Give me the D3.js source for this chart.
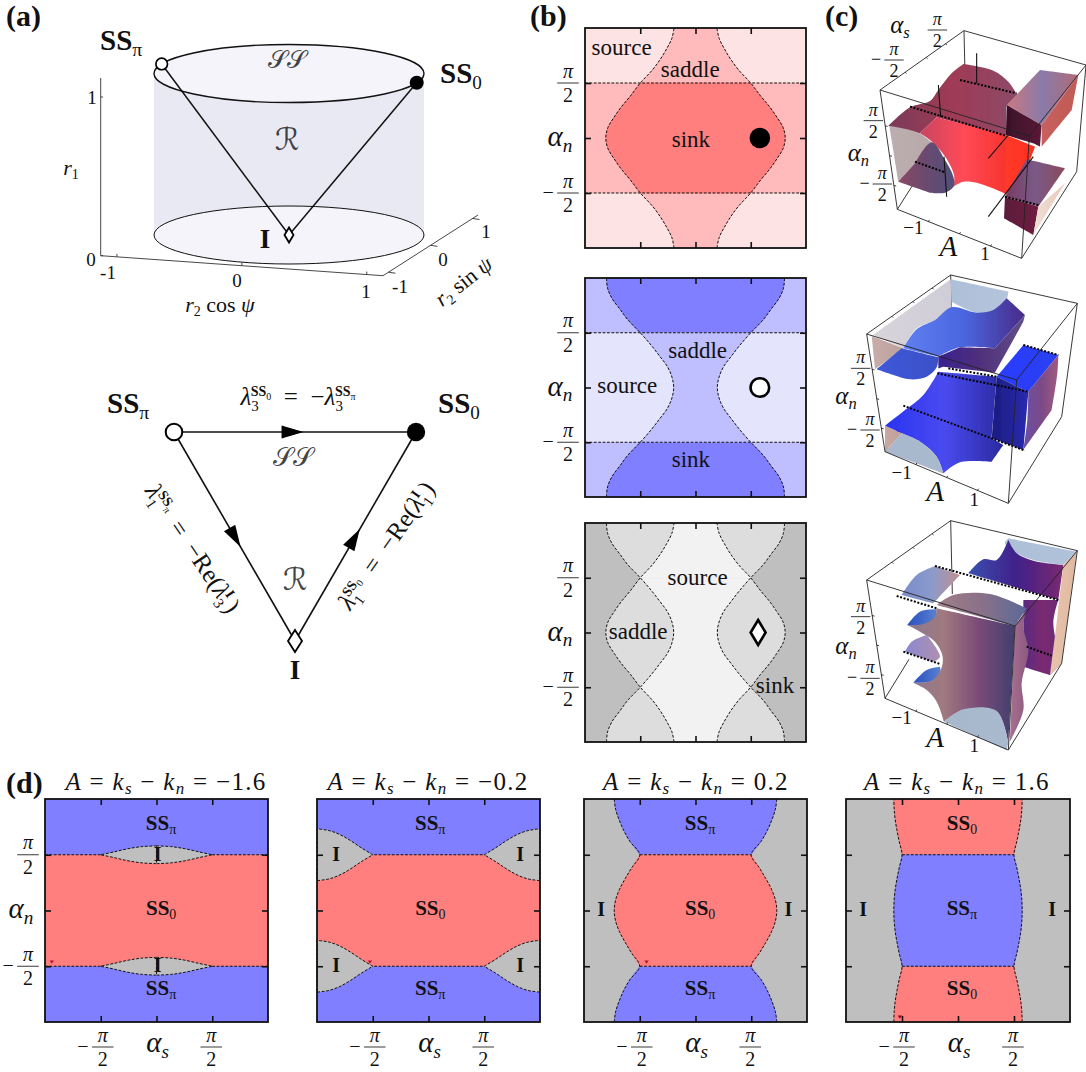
<!DOCTYPE html>
<html>
<head>
<meta charset="utf-8">
<script src="https://d3js.org/d3.v7.min.js"></script>
<style>
  html, body { margin: 0; padding: 0; background: #fff; }
  svg { display: block; }
  text { font-family: "Liberation Serif", serif; fill: #111; }
</style>
</head>
<body>
<div id="chart"></div>
<script>
const PI = Math.PI, H = PI / 2;

// boundaries of the stability regions (b) and (d)
const alphaN = [0, 0.3, 0.6, 0.9, 1.2, 1.57, 1.95, 2.25, 2.55, 2.85, 3.14];
const edgeSS0 = [2.55, 2.49, 2.31, 2.10, 1.85, 1.57, 1.22, 1.00, 0.82, 0.67, 0.61];
const edgeSSpi = [0.62, 0.67, 0.80, 1.02, 1.25, 1.57, 1.93, 2.15, 2.37, 2.50, 2.53];
const edgeD3 = [2.29, 2.25, 2.14, 1.98, 1.80, 1.57, 1.85, 2.02, 2.15, 2.25, 2.29];
const edgeD4 = [1.80, 1.79, 1.76, 1.71, 1.65, 1.57, 1.65, 1.71, 1.76, 1.79, 1.80];
const lensS1 = [0, 0.4, 0.8, 1.2, 1.57];
const lensW1 = [0.25, 0.23, 0.17, 0.08, 0];
const lensS2 = [1.57, 1.9, 2.2, 2.5, 2.8, 3.14];
const lensW2 = [0, 0.2, 0.4, 0.57, 0.68, 0.73];

const tickVals = [-H, 0, H];
const r2Ticks = [-1, 0, 1];
const titles = ["\u22121.6", "\u22120.2", "0.2", "1.6"];
const titleCentres = [166, 428, 696, 957];

const redShades = ["#fde3e3", "#ffbbbb", "#ff7f7f"];
const blueShades = ["#e4e4fd", "#bfbfff", "#7f7fff"];
const grayShades = ["#f2f2f2", "#dddddd", "#bfbfbf"];
const RED = "#ff7f7f", BLUE = "#7f7fff", GRAY = "#bfbfbf";

// text in panel (b): word, alpha_s, alpha_n of baseline
const b1Words = [["source", -2.10, 2.37], ["saddle", -0.15, 1.74], ["sink", -0.13, -0.26]];
const b2Words = [["saddle", 0.06, 0.84], ["source", -1.94, -0.16], ["sink", -0.13, -2.29]];
const b3Words = [["source", 0.06, 1.36], ["saddle", -1.63, -0.19], ["sink", 2.26, -1.73]];

// text in panel (d): kind, alpha_s, alpha_n of baseline
const d1Words = [["pi", 0.13, 2.27], ["0", 0.13, -0.13], ["pi", 0.13, -2.38], ["I", 0.03, 1.39], ["I", 0.03, -1.73]];
const d2Words = [["pi", 0.05, 2.27], ["0", 0.05, -0.13], ["pi", 0.05, -2.38], ["I", -2.6, 1.39], ["I", 2.58, 1.39], ["I", -2.6, -1.73], ["I", 2.58, -1.73]];
const d3Words = [["pi", 0.13, 2.27], ["0", 0.13, -0.13], ["pi", 0.13, -2.38], ["I", -2.66, -0.15], ["I", 2.62, -0.15]];
const d4Words = [["0", 0.11, 2.27], ["pi", 0.11, -0.13], ["0", 0.11, -2.38], ["I", -2.66, -0.15], ["I", 2.64, -0.15]];

// small numerical specks in the maps: alpha_s, alpha_n
const d1Specks = [[-2.95, -1.45]];
const d2Specks = [[-1.65, -1.45]];
const d3Specks = [[-1.38, -1.45]];
const d4Specks = [[-1.63, -3.0]];

// panel (c) surfaces, traced outlines in a 798 x 780 picture of each box
// a third element 1 marks a sharp corner, the rest are on a smooth edge
const c1Shapes = [
  [[205,378,1],[270,322],[330,303],[355,270],[395,220],[430,192,1],[520,212],[565,245],[592,285,1],[558,320,1],[558,408,1],[350,352,1],[300,400,1]],
  [[300,400,1],[350,352,1],[558,405,1],[558,582,1],[510,562],[470,548],[430,545],[402,558,1],[402,525],[385,485],[360,450],[330,420]],
  [[558,405,1],[645,440,1],[600,560,1],[555,582,1]],
  [[208,378,1],[295,398],[335,427,1],[285,490,1],[235,545,1]],
  [[235,545,1],[285,490,1],[335,427],[375,480],[400,530],[402,558],[375,578],[330,578,1]],
  [[560,315,1],[660,210,1],[775,225,1],[665,375,1]],
  [[560,315,1],[665,375,1],[660,440,1],[640,430,1],[558,405,1]],
  [[665,375,1],[775,225,1],[755,330,1],[665,440,1]],
  [[555,590,1],[620,478,1],[735,505,1],[655,620,1]],
  [[555,590,1],[655,620,1],[640,705,1],[552,655,1]],
  [[655,620,1],[735,550,1],[640,705,1]]
];
const c1Fills = [
  ["#7a3a5a", "#a03a55", "#8c4a68"], ["#c84460", "#ff4a58", "#f8342e"], ["#ff3a2a", "#ff3020"], ["#bcaeb0", "#b8a8aa"], ["#8a4a62", "#6a4a70", "#50507a"],
  ["#c97a80", "#8a7aa8", "#b06a78"], ["#3a1028", "#5a1a38"], ["#c8605e", "#c05a55"], ["#7a3a60", "#7a5a88", "#8a4a5a"],
  ["#5a1a3a", "#701f40"], ["#f0e0d8", "#e8c8b8"]
];
const c1Lines = [
  [[470,160],[470,250]], [[355,255],[362,350]], [[505,475],[565,405]], [[505,650],[640,470]], [[372,470],[380,590]]
];
const c1Dots = [
  [[285,485],[375,517]], [[270,320],[560,408]], [[420,240],[590,280]], [[555,590],[655,615]]
];
const c2Shapes = [
  [[160,225,1],[392,58,1],[395,142,1],[345,180],[290,205],[250,265,1]],
  [[392,58,1],[565,95,1],[557,125],[520,152],[470,158],[395,125,1]],
  [[250,265,1],[290,208],[345,180],[395,142],[470,158],[520,150],[560,115,1],[615,165,1],[525,265,1],[420,262],[355,290,1]],
  [[155,228,1],[250,265,1],[165,328,1]],
  [[170,328,1],[245,265,1],[355,292,1],[350,322],[320,350],[270,358],[220,345]],
  [[355,290,1],[420,262,1],[525,265,1],[615,165,1],[610,185,1],[525,338,1],[370,320,1],[355,325,1]],
  [[195,497,1],[255,450],[310,405],[355,335,1],[530,350,1],[515,535,1],[550,555,1],[515,605,1],[425,605],[395,620],[370,640,1],[350,590],[300,545],[245,520,1]],
  [[195,575,1],[245,520,1],[300,545],[350,590],[370,640,1]],
  [[195,497,1],[245,520,1],[195,575,1]],
  [[530,350,1],[610,255,1],[715,285,1],[625,395,1]],
  [[530,350,1],[625,395,1],[610,570,1],[515,535,1]],
  [[625,395,1],[715,285,1],[712,340],[695,450,1],[610,570,1],[622,480]]
];
const c2Fills = [
  ["#d8d4da", "#cfcdd8"], ["#aebfd8", "#b4c4dc"], ["#5f7ff0", "#4a66e0", "#4a2a88"], ["#c8aca8", "#bca09e"],
  ["#4058d8", "#3a50c8"], ["#3a2090", "#50307a", "#60508a"], ["#2a34f0", "#4a4af0", "#2a2aa0"], ["#a9b8cc", "#aabace"],
  ["#c8a8a0", "#c0a09a"], ["#2a3cff", "#2a40f0"], ["#1c1c80", "#2a2ab0"], ["#6a50a8", "#7a4a88", "#a05a80"]
];
const c2Lines = [];
const c2Dots = [
  [[250,437],[615,572]], [[352,340],[625,395]], [[610,255],[715,285]], [[385,325],[530,350]]
];
const c3Shapes = [
  [[565,85,1],[770,125,1],[730,165,1],[640,150],[590,130],[555,100]],
  [[445,190,1],[490,148],[530,150],[565,90,1],[590,130],[640,152],[730,165,1],[715,270,1]],
  [[610,270,1],[715,270,1],[700,340],[725,460,1],[690,495,1],[610,470,1]],
  [[730,165,1],[770,125,1],[725,460,1],[690,495,1],[712,320]],
  [[245,255,1],[290,195],[345,168,1],[420,195,1],[340,280,1]],
  [[262,345,1],[300,305],[350,298,1],[345,325],[310,345]],
  [[255,425,1],[275,395],[320,375,1],[360,440],[340,455,1]],
  [[280,518,1],[320,480],[360,470,1],[360,495],[330,515]],
  [[350,285,1],[400,255],[510,252],[620,295,1],[585,348,1]],
  [[350,295,1],[585,348,1],[565,700,1],[530,605],[430,600],[372,635,1],[350,575],[320,540],[280,518,1],[335,512],[362,480],[368,440],[345,395],[300,365],[262,345,1],[310,342],[345,320]],
  [[372,635,1],[430,598],[530,603],[565,700,1],[560,720,1]],
  [[585,348,1],[620,298,1],[610,350],[625,420],[605,520],[610,600],[570,695,1]]
];
const c3Fills = [
  ["#aec0d8", "#b0c2da"], ["#3a50b0", "#40208a", "#7a2a70"], ["#5a2a80", "#7a2a70", "#6a2a78"], ["#e8c4ac", "#e0b8a0"],
  ["#7a8ccc", "#8a9acc", "#c09090"], ["#2a50c0", "#5a80d0"], ["#8a88d0", "#b090b0"], ["#2a50c0", "#5a80d0"],
  ["#a08088", "#8a7088", "#5a6a98"], ["#8a7890", "#a07a80", "#7a4a78", "#40406e"], ["#a8b8cc", "#aabace"], ["#a87090", "#8a5a80"]
];
const c3Lines = [];
const c3Dots = [
  [[345,168],[715,270]], [[230,258],[350,295]], [[250,425],[360,462]], [[620,410],[695,437]]
];
// box corners: top left, back, right, front; bottom left, front, right
const c1Box = [[180,270],[432,92],[798,195],[628,408],[232,628],[605,775],[770,515]];
const c2Box = [[140,222],[392,45],[772,130],[590,360],[195,575],[565,730],[725,470]];
const c3Box = [[140,210],[392,32],[772,122],[585,348],[195,565],[565,720],[725,460]];
const boxTicksBack = [0.3, 0.55, 0.78];
const boxTicksBottom = [0.25, 0.5, 0.75];
const boxTicksSide = [0.3, 0.55, 0.8];

const width = 1086, height = 1072;
const svg = d3.select("#chart").append("svg").attr("width", width).attr("height", height);
const defs = svg.append("defs");
defs.append("filter").attr("id", "soft").append("feGaussianBlur").attr("stdDeviation", 0.45);

// ---- helpers ----
function rich(g, x, y, parts, size, anchor) {
  const t = g.append("text").attr("x", x).attr("y", y).attr("font-size", size).attr("text-anchor", anchor || "start");
  let prev = 0;
  parts.forEach(p => {
    const b = p.b || 0;
    t.append("tspan")
      .attr("dy", b - prev)
      .attr("dx", p.dx || 0)
      .attr("font-size", p.s || size)
      .attr("font-weight", p.w || "normal")
      .attr("font-style", p.i ? "italic" : "normal")
      .text(p.t);
    prev = b;
  });
  return t;
}

function ssLabel(g, x, y, sub, size, anchor) {
  const parts = [{ t: "SS", w: "bold" }];
  parts.push(sub === "pi" ? { t: "\u03c0", b: size * 0.2, s: size * 0.68 } : { t: "0", b: size * 0.2, s: size * 0.66 });
  return rich(g, x, y, parts, size, anchor);
}

function fraction(g, x, y, neg, size) {
  const w = size * 0.54;
  g.append("text").attr("x", x).attr("y", y - size * 0.27).attr("text-anchor", "middle").attr("font-size", size).attr("font-style", "italic").text("\u03c0");
  g.append("line").attr("x1", x - w).attr("x2", x + w).attr("y1", y).attr("y2", y).attr("stroke", "#222").attr("stroke-width", 0.9);
  g.append("text").attr("x", x).attr("y", y + size * 0.95).attr("text-anchor", "middle").attr("font-size", size).text("2");
  if (neg) g.append("text").attr("x", x - w - size * 0.45).attr("y", y + size * 0.28).attr("text-anchor", "middle").attr("font-size", size).attr("fill", "#444").text("\u2212");
}

function alphaLabel(g, x, y, sub, size) {
  rich(g, x, y, [{ t: "\u03b1", i: true }, { t: sub, i: true, b: size * 0.2, s: size * 0.66 }], size, "middle");
}

function diamond(g, x, y, w, h, sw) {
  g.append("path")
    .attr("d", `M${x},${y - h}L${x + w},${y}L${x},${y + h}L${x - w},${y}Z`)
    .attr("fill", "#fff").attr("stroke", "#000").attr("stroke-width", sw);
}

function makeFrame(l, r, t, b) {
  const g = svg.append("g");
  return {
    g,
    x: d3.scaleLinear().domain([-PI, PI]).range([l, r]),
    y: d3.scaleLinear().domain([-PI, PI]).range([b, t]),
    l, r, t, b
  };
}

function edgeSegment(edge, lo, hi) {
  const pts = [];
  alphaN.forEach((a, i) => pts.push([a, edge[i]]));
  alphaN.slice(1).forEach((a, i) => pts.unshift([-a, edge[i + 1]]));
  return pts.filter(p => p[0] >= lo - 0.01 && p[0] <= hi + 0.01);
}

// area |alpha_s| < edge(alpha_n) for alpha_n between lo and hi
function centre(f, edge, lo, hi, color) {
  f.g.append("path").datum(edgeSegment(edge, lo, hi))
    .attr("fill", color).attr("stroke", color).attr("stroke-width", 0.5)
    .attr("d", d3.area().curve(d3.curveCatmullRom.alpha(0.5))
      .y(d => f.y(d[0])).x0(d => f.x(-d[1])).x1(d => f.x(d[1])));
}

function edgeLines(f, edge, lo, hi) {
  const seg = edgeSegment(edge, lo, hi);
  [1, -1].forEach(sgn => {
    f.g.append("path").datum(seg)
      .attr("fill", "none").attr("stroke", "#111").attr("stroke-width", 1).attr("stroke-dasharray", "2.8 1.6")
      .attr("d", d3.line().curve(d3.curveCatmullRom.alpha(0.5)).y(d => f.y(d[0])).x(d => f.x(sgn * d[1])));
  });
}

function band(f, lo, hi, color) {
  f.g.append("rect").attr("x", f.l).attr("width", f.r - f.l)
    .attr("y", f.y(hi)).attr("height", f.y(lo) - f.y(hi)).attr("fill", color);
}

function hDash(f, a, s0, s1) {
  const x0 = s0 === undefined ? f.l : f.x(s0), x1 = s1 === undefined ? f.r : f.x(s1);
  f.g.append("line").attr("x1", x0).attr("x2", x1).attr("y1", f.y(a)).attr("y2", f.y(a))
    .attr("stroke", "#111").attr("stroke-width", 1.1).attr("stroke-dasharray", "2.8 1.6");
}

function finishFrame(f) {
  const ax = (axis, tx, ty) => {
    const a = f.g.append("g").attr("transform", `translate(${tx},${ty})`)
      .call(axis.tickValues(tickVals).tickSize(-6).tickFormat(""));
    a.select(".domain").remove();
    a.selectAll("line").attr("stroke", "#111").attr("stroke-width", 1.6);
  };
  ax(d3.axisLeft(f.y), f.l, 0);
  ax(d3.axisRight(f.y), f.r, 0);
  ax(d3.axisTop(f.x), 0, f.t);
  ax(d3.axisBottom(f.x), 0, f.b);
  f.g.append("rect").attr("x", f.l).attr("y", f.t).attr("width", f.r - f.l).attr("height", f.b - f.t)
    .attr("fill", "none").attr("stroke", "#111").attr("stroke-width", 1.8);
}

function specks(f, list, color) {
  f.g.selectAll(null).data(list).enter().append("path")
    .attr("d", "M-2.2,-1.4L2.2,-1.4L0,1.8Z").attr("fill", color)
    .attr("transform", d => `translate(${f.x(d[0])},${f.y(d[1])})`);
}

// ---- panel labels ----
[["(a)", 6, 26], ["(b)", 530, 26], ["(c)", 825, 26], ["(d)", 6, 793]].forEach(d => {
  svg.append("text").attr("x", d[1]).attr("y", d[2]).attr("font-size", 30).attr("font-weight", "bold").text(d[0]);
});

// ---- panel (a), cylinder ----
const ga = svg.append("g");
const cylX = d3.scaleLinear().domain([-1, 1]).range([154, 424]);
const cylZ = d3.scaleLinear().domain([0, 1]).range([235, 73.5]);
const cylRy = 29;
ga.append("rect").attr("x", cylX(-1)).attr("width", cylX(1) - cylX(-1))
  .attr("y", cylZ(1)).attr("height", cylZ(0) - cylZ(1)).attr("fill", "#e9e9f4");
ga.append("ellipse").attr("cx", cylX(0)).attr("cy", cylZ(0)).attr("rx", cylX(1) - cylX(0)).attr("ry", cylRy)
  .attr("fill", "#f4f4fa").attr("stroke", "#111").attr("stroke-width", 1);
ga.append("ellipse").attr("cx", cylX(0)).attr("cy", cylZ(1)).attr("rx", cylX(1) - cylX(0)).attr("ry", cylRy)
  .attr("fill", "#f4f4fa").attr("stroke", "#111").attr("stroke-width", 1.4);

const ptPi = [cylX(-0.943), cylZ(1) - 0.33 * cylRy];
const pt0 = [cylX(0.946), cylZ(1) + 0.317 * cylRy];
const ptI = [cylX(0), cylZ(0)];
[ptPi, pt0].forEach(p => {
  ga.append("line").attr("x1", p[0]).attr("y1", p[1]).attr("x2", ptI[0]).attr("y2", ptI[1])
    .attr("stroke", "#111").attr("stroke-width", 1.5);
});
ga.append("circle").attr("cx", ptPi[0]).attr("cy", ptPi[1]).attr("r", 5.8).attr("fill", "#fff").attr("stroke", "#000").attr("stroke-width", 1.7);
ga.append("circle").attr("cx", pt0[0]).attr("cy", pt0[1]).attr("r", 7).attr("fill", "#000");
diamond(ga, ptI[0], ptI[1], 4.5, 7.5, 1.8);

// axes of the box
const axisX = t => [d3.scaleLinear().domain([-1.13, 1.13]).range([100.7, 383])(t), d3.scaleLinear().domain([-1.13, 1.13]).range([255.7, 275.7])(t)];
const axisY = t => [d3.scaleLinear().domain([-1.13, 1.13]).range([383, 478])(t), d3.scaleLinear().domain([-1.13, 1.13]).range([275.7, 215])(t)];
const axisZ = d3.scaleLinear().domain([0, 1]).range([255.7, 97]);
const axStyle = s => s.attr("stroke", "#333").attr("stroke-width", 0.9).attr("fill", "none");
axStyle(ga.append("path").attr("d", d3.line()([axisX(-1.13), axisX(1.13), axisY(1.13)])));
axStyle(ga.append("line").attr("x1", 100.7).attr("x2", 100.7).attr("y1", 255.7).attr("y2", 78));
r2Ticks.forEach(t => {
  const p = axisX(t), q = axisY(t);
  axStyle(ga.append("line").attr("x1", p[0]).attr("y1", p[1]).attr("x2", p[0]).attr("y2", p[1] - 3));
  axStyle(ga.append("line").attr("x1", q[0]).attr("y1", q[1]).attr("x2", q[0] + 7).attr("y2", q[1] + 1));
});
[0, 1].forEach(t => axStyle(ga.append("line").attr("x1", 100.7).attr("x2", 103).attr("y1", axisZ(t)).attr("y2", axisZ(t))));
const tickTxt = (x, y, s) => ga.append("text").attr("x", x).attr("y", y).attr("text-anchor", "middle").attr("font-size", 19).attr("fill", "#333").text(s);
tickTxt(92, 104, "1"); tickTxt(91, 266, "0");
tickTxt(108, 279, "-1"); tickTxt(237, 287, "0"); tickTxt(366, 298, "1");
tickTxt(400, 293, "-1"); tickTxt(443, 266, "0"); tickTxt(486, 238, "1");
rich(ga, 71, 175, [{ t: "r", i: true }, { t: "1", b: 4, s: 14 }], 22, "middle");
rich(ga, 220, 312, [{ t: "r", i: true }, { t: "2", b: 4, s: 14 }, { t: " cos ", b: 0 }, { t: "\u03c8", i: true }], 22, "middle");
rich(ga.append("g").attr("transform", "translate(468,287) rotate(-38)"), 0, 0,
  [{ t: "r", i: true }, { t: "2", b: 4, s: 14 }, { t: " sin ", b: 0 }, { t: "\u03c8", i: true }], 22, "middle");

ssLabel(ga, 100, 50, "pi", 29);
ssLabel(ga, 440, 83, "0", 29);
ga.append("text").attr("x", 265).attr("y", 248).attr("text-anchor", "middle").attr("font-size", 27).attr("font-weight", "bold").text("I");
const scriptS = "\ud835\udcae\ud835\udcae", scriptR = "\u211b";
const mathFamily = '"DejaVu Serif", "DejaVu Sans", serif';
const mathTxt = (g, x, y, s, size) => g.append("text").attr("x", x).attr("y", y).attr("text-anchor", "middle")
  .attr("font-size", size).attr("fill-opacity", 0.8).style("font-family", mathFamily).text(s);
mathTxt(ga, 287, 68, scriptS, 25);
mathTxt(ga, 287, 150, scriptR, 31);

// ---- panel (a), triangle ----
const gt = svg.append("g");
const triPi = [174, 432], tri0 = [416, 432], triI = [295, 641];
const arrow = (a, b, frac) => {
  const x = a[0] + (b[0] - a[0]) * frac, y = a[1] + (b[1] - a[1]) * frac;
  const ang = Math.atan2(b[1] - a[1], b[0] - a[0]) * 180 / PI;
  gt.append("path").attr("d", "M-11,-6.5L11,0L-11,6.5Z").attr("fill", "#000")
    .attr("transform", `translate(${x},${y}) rotate(${ang})`);
};
[[triPi, tri0], [tri0, triI], [triI, triPi]].forEach(e => {
  gt.append("line").attr("x1", e[0][0]).attr("y1", e[0][1]).attr("x2", e[1][0]).attr("y2", e[1][1]).attr("stroke", "#111").attr("stroke-width", 1.6);
});
arrow(triPi, tri0, 0.49);
arrow(triPi, triI, 0.505);
arrow(triI, tri0, 0.49);
gt.append("circle").attr("cx", triPi[0]).attr("cy", triPi[1]).attr("r", 8.3).attr("fill", "#fff").attr("stroke", "#000").attr("stroke-width", 2);
gt.append("circle").attr("cx", tri0[0]).attr("cy", tri0[1]).attr("r", 9.2).attr("fill", "#000");
diamond(gt, triI[0], triI[1], 7, 11, 1.8);
ssLabel(gt, 107, 413, "pi", 29);
ssLabel(gt, 438, 413, "0", 29);
gt.append("text").attr("x", 295).attr("y", 679).attr("text-anchor", "middle").attr("font-size", 27).attr("font-weight", "bold").text("I");
mathTxt(gt, 293, 466, scriptS, 26);
mathTxt(gt, 295, 590, scriptR, 31);

function lam(sub, sup, supSub) {
  const out = [{ t: "\u03bb", i: true }, { t: sub, b: 6, s: 15 }, { t: sup, b: -9, s: 14, w: "bold", dx: -8 }];
  if (supSub) out.push({ t: supSub, b: -5, s: 10 });
  return out;
}
const EQ = "\u2002=\u2002\u2212";
rich(gt, 298, 405, [...lam("3", "SS", "0"), { t: EQ, b: 0 }, ...lam("3", "SS", "\u03c0")], 25, "middle");
rich(gt.append("g").attr("transform", "translate(186,553) rotate(56)"), 0, 0,
  [...lam("1", "SS", "\u03c0"), { t: EQ + "Re(", b: 0 }, ...lam("3", "I"), { t: "\u2009)", b: 0 }], 25, "middle");
rich(gt.append("g").attr("transform", "translate(393,550) rotate(-55)"), 0, 0,
  [...lam("1", "SS", "0"), { t: EQ + "Re(", b: 0 }, ...lam("1", "I"), { t: "\u2009)", b: 0 }], 25, "middle");

// ---- panel (b) ----
const bTops = [[28, 248], [278, 497], [523, 742]];
const [fb1, fb2, fb3] = bTops.map(d => makeFrame(585, 806, d[0], d[1]));

band(fb1, -PI, PI, redShades[0]);
band(fb1, -H, H, redShades[1]);
centre(fb1, edgeSS0, -PI, -H, redShades[1]);
centre(fb1, edgeSS0, H, PI, redShades[1]);
centre(fb1, edgeSS0, -H, H, redShades[2]);
edgeLines(fb1, edgeSS0, -PI, PI);
hDash(fb1, H); hDash(fb1, -H);

band(fb2, -PI, PI, blueShades[1]);
band(fb2, -H, H, blueShades[0]);
centre(fb2, edgeSSpi, -PI, -H, blueShades[2]);
centre(fb2, edgeSSpi, H, PI, blueShades[2]);
centre(fb2, edgeSSpi, -H, H, blueShades[1]);
edgeLines(fb2, edgeSSpi, -PI, PI);
hDash(fb2, H); hDash(fb2, -H);

const edgeOuter = edgeSS0.map((v, i) => Math.max(v, edgeSSpi[i]));
const edgeInner = edgeSS0.map((v, i) => Math.min(v, edgeSSpi[i]));
band(fb3, -PI, PI, grayShades[2]);
[[-PI, -H], [-H, H], [H, PI]].forEach(r => centre(fb3, edgeOuter, r[0], r[1], grayShades[1]));
[[-PI, -H], [-H, H], [H, PI]].forEach(r => centre(fb3, edgeInner, r[0], r[1], grayShades[0]));
edgeLines(fb3, edgeSS0, -PI, PI);
edgeLines(fb3, edgeSSpi, -PI, PI);

[[fb1, b1Words], [fb2, b2Words], [fb3, b3Words]].forEach(([f, words]) => {
  finishFrame(f);
  words.forEach(w => {
    f.g.append("text").attr("x", f.x(w[1])).attr("y", f.y(w[2])).attr("text-anchor", "middle").attr("font-size", 23).text(w[0]);
  });
  fraction(f.g, 568, f.y(H), false, 20);
  fraction(f.g, 568, f.y(-H), true, 20);
  alphaLabel(f.g, 560, f.y(0) + 8, "n", 29);
});
fb1.g.append("circle").attr("cx", fb1.x(1.83)).attr("cy", fb1.y(0)).attr("r", 10.3).attr("fill", "#000");
fb2.g.append("circle").attr("cx", fb2.x(1.83)).attr("cy", fb2.y(0)).attr("r", 9.3).attr("fill", "#fff").attr("stroke", "#000").attr("stroke-width", 2.6);
diamond(fb3.g, fb3.x(1.78), fb3.y(0), 7.5, 12.5, 2.6);

// ---- panel (c) ----
function drawBox(top, shapes, fills, lines, dots, box, idx) {
  const cx = d3.scaleLinear().domain([0, 798]).range([820, 1086]);
  const cy = d3.scaleLinear().domain([0, 780]).range([top, top + 260]);
  const line = d3.line().x(d => cx(d[0])).y(d => cy(d[1]));
  const smooth = d3.line().curve(d3.curveCatmullRomClosed.alpha(0.5)).x(d => cx(d[0])).y(d => cy(d[1]));
  const g = svg.append("g");
  const [lt, bk, rt, fr, lb, fb, rb] = box;
  const wire = pts => g.append("path").attr("d", line(pts)).attr("fill", "none").attr("stroke", "#222").attr("stroke-width", 0.9);
  const along = (a, b, t) => [a[0] + (b[0] - a[0]) * t, a[1] + (b[1] - a[1]) * t];
  const ticks = (a, b, ts, dx, dy) => ts.forEach(t => {
    const p = along(a, b, t);
    wire([p, [p[0] + dx, p[1] + dy]]);
  });
  // back edges first
  wire([bk, [bk[0] + 5, bk[1] + 220]]);
  wire([lb, along(lb, [lb[0] + rb[0] - fb[0], lb[1] + rb[1] - fb[1]], 0.45)]);
  const gs = g.append("g").attr("filter", "url(#soft)");
  shapes.forEach((pts, i) => {
    const id = `c${idx}g${i}`;
    const grad = defs.append("linearGradient").attr("id", id);
    fills[i].forEach((c, k) => grad.append("stop").attr("offset", k / (fills[i].length - 1)).attr("stop-color", c));
    const doubled = pts.flatMap(p => p[2] ? [p, p] : [p]);
    gs.append("path").attr("d", smooth(doubled)).attr("fill", `url(#${id})`);
  });
  lines.forEach(pts => wire(pts).attr("stroke", "#111").attr("stroke-width", 1.1));
  dots.forEach(pts => wire(pts).attr("stroke", "#000").attr("stroke-width", 2).attr("stroke-dasharray", "2 1.6"));
  wire([lt, bk, rt, fr, lt]);
  wire([lt, lb, fb, rb, rt]);
  wire([fr, fb]);
  ticks(lt, bk, boxTicksBack, 4, 4);
  ticks(lb, fb, boxTicksBottom, 3, -5);
  ticks(lt, lb, boxTicksSide, 7, 2);
  return { g, cx, cy };
}
const c1 = drawBox(0, c1Shapes, c1Fills, c1Lines, c1Dots, c1Box, 1);
const c2 = drawBox(260, c2Shapes, c2Fills, c2Lines, c2Dots, c2Box, 2);
const c3 = drawBox(510, c3Shapes, c3Fills, c3Lines, c3Dots, c3Box, 3);

alphaLabel(c1.g, c1.cx(240), c1.cy(100), "s", 25);
fraction(c1.g, c1.cx(352), c1.cy(90), false, 18);
fraction(c1.g, c1.cx(222), c1.cy(180), true, 18);
fraction(c1.g, c1.cx(160), c1.cy(362), false, 18);
alphaLabel(c1.g, c1.cx(115), c1.cy(482), "n", 25);
fraction(c1.g, c1.cx(187), c1.cy(552), true, 18);
[[c1, 280, 702, "\u22121"], [c1, 495, 780, "1"], [c2, 245, 657, "\u22121"], [c2, 463, 738, "1"], [c3, 245, 642, "\u22121"], [c3, 463, 725, "1"]].forEach(d => {
  d[0].g.append("text").attr("x", d[0].cx(d[1])).attr("y", d[0].cy(d[2])).attr("text-anchor", "middle").attr("font-size", 19).text(d[3]);
});
[[c1, 385, 768], [c2, 345, 722], [c3, 345, 710]].forEach(d => {
  d[0].g.append("text").attr("x", d[0].cx(d[1])).attr("y", d[0].cy(d[2])).attr("text-anchor", "middle").attr("font-size", 29).attr("font-style", "italic").text("A");
});
fraction(c2.g, c2.cx(122), c2.cy(325), false, 18);
alphaLabel(c2.g, c2.cx(78), c2.cy(432), "n", 25);
fraction(c2.g, c2.cx(150), c2.cy(510), true, 18);
fraction(c3.g, c3.cx(122), c3.cy(320), false, 18);
alphaLabel(c3.g, c3.cx(78), c3.cy(432), "n", 25);
fraction(c3.g, c3.cx(150), c3.cy(505), true, 18);

// ---- panel (d) ----
const dLefts = [[45, 268], [317, 540], [584, 807], [846, 1070]];
const [fd1, fd2, fd3, fd4] = dLefts.map(d => makeFrame(d[0], d[1], 799, 1022));

function lens(f, ss, ws, c, sides) {
  sides.forEach(sgn => {
    const seg = ss.map((s, i) => [s, ws[i]]);
    f.g.append("path").datum(seg).attr("fill", GRAY)
      .attr("stroke", "#111").attr("stroke-width", 1).attr("stroke-dasharray", "2.8 1.6")
      .attr("d", d3.area().curve(d3.curveCatmullRom.alpha(0.5))
        .x(d => f.x(sgn * d[0])).y0(d => f.y(c - d[1])).y1(d => f.y(c + d[1])));
  });
}

band(fd1, -PI, PI, BLUE);
band(fd1, -H, H, RED);
hDash(fd1, H); hDash(fd1, -H);
lens(fd1, lensS1, lensW1, H, [1, -1]);
lens(fd1, lensS1, lensW1, -H, [1, -1]);

band(fd2, -PI, PI, BLUE);
band(fd2, -H, H, RED);
hDash(fd2, H); hDash(fd2, -H);
lens(fd2, lensS2, lensW2, H, [1, -1]);
lens(fd2, lensS2, lensW2, -H, [1, -1]);

band(fd3, -PI, PI, GRAY);
centre(fd3, edgeD3, -PI, -H, BLUE);
centre(fd3, edgeD3, H, PI, BLUE);
centre(fd3, edgeD3, -H, H, RED);
edgeLines(fd3, edgeD3, -PI, PI);
hDash(fd3, H, -H, H); hDash(fd3, -H, -H, H);

band(fd4, -PI, PI, GRAY);
centre(fd4, edgeD4, -PI, -H, RED);
centre(fd4, edgeD4, H, PI, RED);
centre(fd4, edgeD4, -H, H, BLUE);
edgeLines(fd4, edgeD4, -PI, PI);
hDash(fd4, H, -H, H); hDash(fd4, -H, -H, H);

specks(fd1, d1Specks, "#c01030");
specks(fd2, d2Specks, "#c01030");
specks(fd3, d3Specks, "#c01030");
specks(fd4, d4Specks, "#900010");

[[fd1, d1Words], [fd2, d2Words], [fd3, d3Words], [fd4, d4Words]].forEach(([f, words], i) => {
  finishFrame(f);
  words.forEach(w => {
    if (w[0] === "I") {
      f.g.append("text").attr("x", f.x(w[1])).attr("y", f.y(w[2])).attr("text-anchor", "middle").attr("font-size", 20).attr("font-weight", "bold").text("I");
    } else {
      ssLabel(f.g, f.x(w[1]), f.y(w[2]), w[0], 21, "middle");
    }
  });
  fraction(f.g, f.x(-H) + 2, 1047, true, 20);
  fraction(f.g, f.x(H) - 1, 1047, false, 20);
  alphaLabel(f.g, f.x(0) + 1, 1052, "s", 29);
  rich(f.g, titleCentres[i], 790, [
    { t: "A", i: true }, { t: " = " }, { t: "k", i: true }, { t: "s", i: true, b: 4, s: 17 },
    { t: " \u2212 ", b: 0 }, { t: "k", i: true }, { t: "n", i: true, b: 4, s: 17 }, { t: " = " + titles[i], b: 0 }
  ], 25, "middle").style("letter-spacing", "1.3px");
});
fraction(fd1.g, 28, fd1.y(H), false, 20);
fraction(fd1.g, 28, fd1.y(-H), true, 20);
alphaLabel(fd1.g, 21, 918, "n", 29);
</script>
</body>
</html>
